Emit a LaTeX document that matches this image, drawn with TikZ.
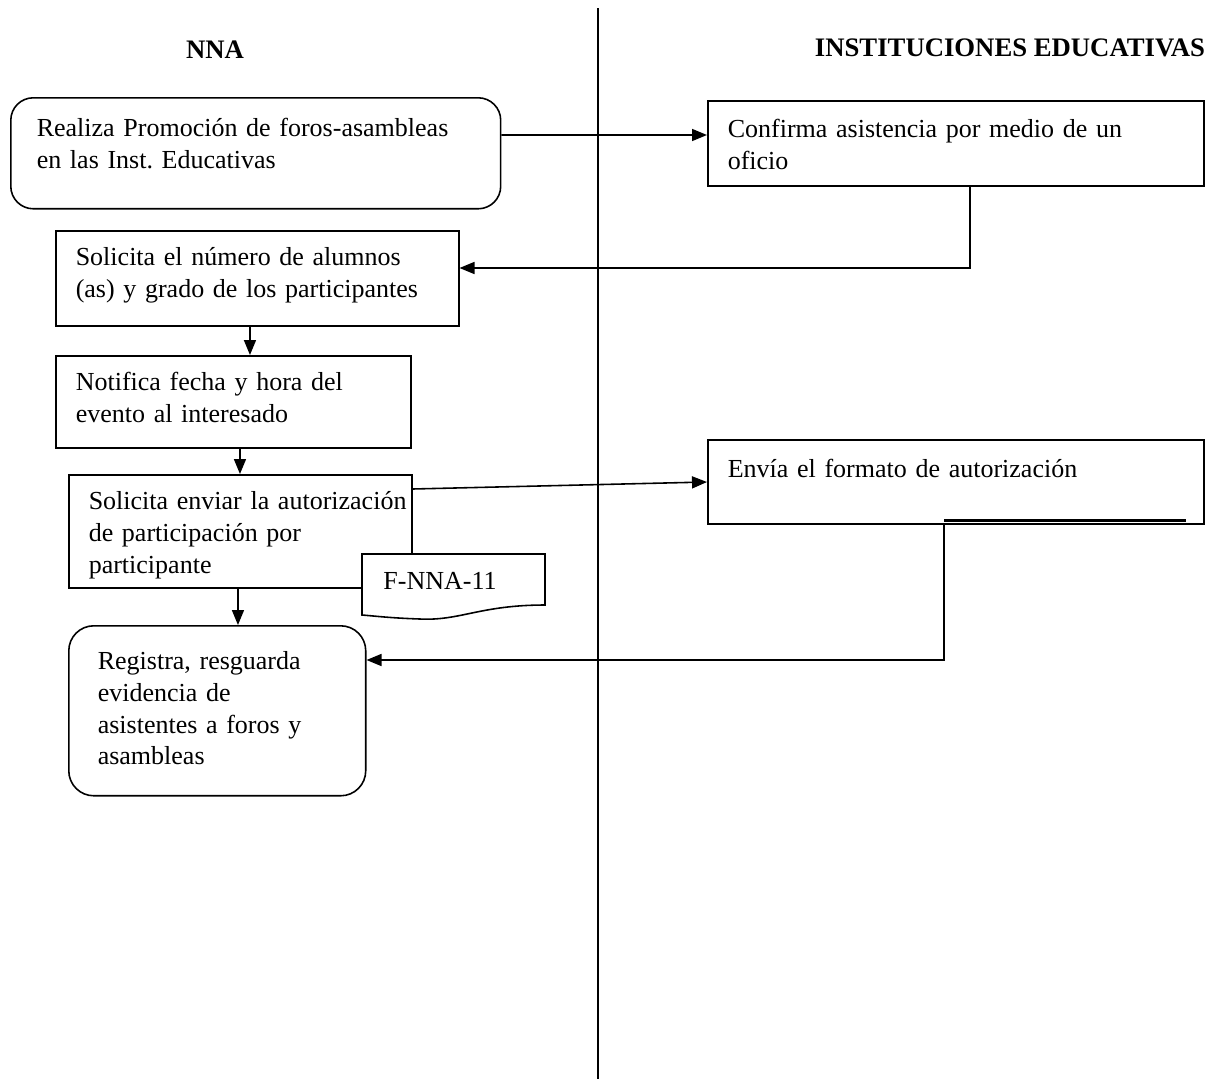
\documentclass[tikz,border=0pt]{standalone}
\usepackage{fontspec}
\setmainfont{Liberation Serif}
\usetikzlibrary{arrows.meta}
\frenchspacing

\begin{document}
\begin{tikzpicture}[x=0.02cm,y=-0.02cm,line width=0.9pt,
		paso/.style={draw,anchor=north west,align=left,inner xsep=0.4cm,inner ysep=0pt,font=\fontsize{14.8}{18}\selectfont},
		redondo/.style={paso,rounded corners=0.45cm},
		flecha/.style={-{Triangle[length=0.3cm,width=0.24cm]}},
		titulo/.style={font=\bfseries\fontsize{15.2}{18}\selectfont}]
		\useasboundingbox (0,0) rectangle (1212,1079);
		\draw (598,8) -- (598,1079);
		\node[titulo] (nna) at (215,50) {NNA};
		\node[titulo] (inst) at (1010,48) {INSTITUCIONES EDUCATIVAS};
		%%%
		\node[redondo,inner xsep=0.52cm,text width=8.76cm,text height=0.78cm,text depth=1.44cm] (promocion) at (10,97) {Realiza Promoción de foros-asambleas\\en las Inst. Educativas};
		\node[paso,text width=9.12cm,text height=0.74cm,text depth=0.96cm] (confirma) at (707,100) {Confirma asistencia por medio de un\\oficio};
		\node[paso,text width=7.26cm,text height=0.7cm,text depth=1.2cm] (alumnos) at (55,230) {Solicita el número de alumnos\\(as) y grado de los participantes};
		\node[paso,text width=6.3cm,text height=0.7cm,text depth=1.14cm] (notifica) at (55,355) {Notifica fecha y hora del\\evento al interesado};
		\node[paso,text width=6.06cm,text height=0.7cm,text depth=1.56cm] (autoriza) at (68,474) {\mbox{Solicita enviar la autorización}\\de participación por\\participante};
		\node[paso,text width=9.12cm,text height=0.76cm,text depth=0.92cm] (formato) at (707,439) {Envía el formato de autorización};
		\node[redondo,inner xsep=0.58cm,text width=4.78cm,text height=0.88cm,text depth=2.52cm,rounded corners=0.5cm] (registra) at (68,625) {Registra, resguarda\\evidencia de\\asistentes a foros y\\asambleas};
		%%%
		\draw[fill=white] (362,554) -- (545,554) -- (545,605) .. controls (480,605) and (460,621) .. (420,619) .. controls (390,618) and (375,616) .. (362,615) -- cycle;
		\node[font=\fontsize{14.8}{18}\selectfont] (fnna) at (440,581) {F-NNA-11};
		%%%
		\draw[flecha] ([yshift=-0.76cm]promocion.north east) -- ([yshift=-0.7cm]confirma.north west);
		\draw[flecha] ([xshift=5.26cm]confirma.south west) |- ([yshift=-0.76cm]alumnos.north east);
		\draw[flecha] ([xshift=3.9cm]alumnos.south west) -- ([xshift=3.9cm]notifica.north west);
		\draw[flecha] ([xshift=3.7cm]notifica.south west) -- ([xshift=3.44cm]autoriza.north west);
		\draw[flecha] ([yshift=-0.3cm]autoriza.north east) -- ([yshift=-0.86cm]formato.north west);
		\draw[flecha] ([xshift=3.4cm]autoriza.south west) -- ([xshift=3.4cm]registra.north west);
		\draw[line width=1.4pt] ([xshift=9.58cm,yshift=0.08cm]formato.south west) -- ([xshift=4.74cm,yshift=0.08cm]formato.south west);
		\draw[flecha] ([xshift=4.74cm]formato.south west) |- ([yshift=-0.7cm]registra.north east);
\end{tikzpicture}
\end{document}
